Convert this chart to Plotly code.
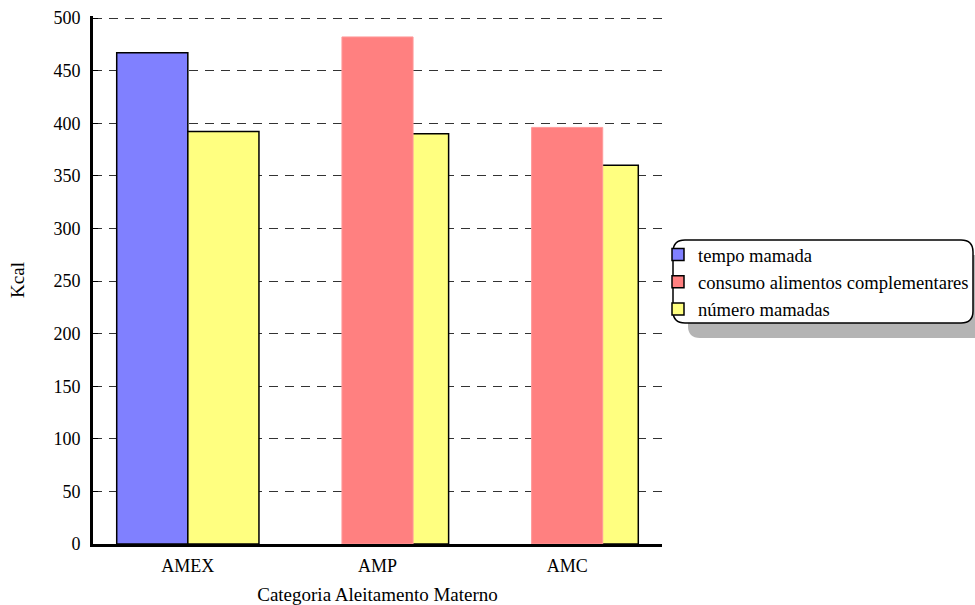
import plotly.graph_objects as go

# Categories and energy values (Kcal) per explanatory factor
categorias = ["AMEX", "AMP", "AMC"]
tempo_mamada = [467, None, None]
consumo_complementares = [None, 482, 396]
numero_mamadas = [392, 390, 360]

W, H = 975, 605
L, R, T, B = 93, 662, 16, 544  # plot area in pixels
Y_TOP = 500 + (18 - T) * 500 / (B - 18)  # keep the 500 gridline inside the plot

FONT = "Liberation Serif, Times New Roman, serif"
FS = 18
BAR_W = 0.375
EDGE = dict(color="black", width=1.5)

fig = go.Figure()

fig.add_trace(go.Bar(
    name="tempo mamada", x=categorias, y=tempo_mamada,
    width=BAR_W, offset=-BAR_W,
    marker=dict(color="#8080FF", line=EDGE),
    legendrank=1,
))
fig.add_trace(go.Bar(
    name="número mamadas", x=categorias, y=numero_mamadas,
    width=BAR_W, offset=0,
    marker=dict(color="#FFFF80", line=EDGE),
    legendrank=3,
))
fig.add_trace(go.Bar(
    name="consumo alimentos complementares", x=categorias, y=consumo_complementares,
    width=BAR_W, offset=-BAR_W / 2,
    marker=dict(color="#FF8080", line=dict(color="#FF9A9A", width=1)),
    legendgroup="consumo", showlegend=False,
))
# legend entry for the complementary-food series (outlined swatch)
fig.add_trace(go.Bar(
    name="consumo alimentos complementares", x=categorias, y=[None] * len(categorias),
    marker=dict(color="#FF8080", line=EDGE),
    legendgroup="consumo", legendrank=2, hoverinfo="skip",
))


def px_x(px):
    return (px - L) / (R - L)


def px_y(py):
    return (B - py) / (B - T)


def rounded_rect(x0, y0, x1, y1, r):
    pts = [
        f"M{px_x(x0 + r)},{px_y(y0)}",
        f"L{px_x(x1 - r)},{px_y(y0)}",
        f"Q{px_x(x1)},{px_y(y0)} {px_x(x1)},{px_y(y0 + r)}",
        f"L{px_x(x1)},{px_y(y1 - r)}",
        f"Q{px_x(x1)},{px_y(y1)} {px_x(x1 - r)},{px_y(y1)}",
        f"L{px_x(x0 + r)},{px_y(y1)}",
        f"Q{px_x(x0)},{px_y(y1)} {px_x(x0)},{px_y(y1 - r)}",
        f"L{px_x(x0)},{px_y(y0 + r)}",
        f"Q{px_x(x0)},{px_y(y0)} {px_x(x0 + r)},{px_y(y0)}",
        "Z",
    ]
    return " ".join(pts)


# Legend frame: drop shadow and rounded white box
fig.add_shape(type="path", xref="paper", yref="paper",
              path=rounded_rect(688, 255, 990, 338, 12),
              fillcolor="#B4B4B4", line=dict(width=0), layer="above")
fig.add_shape(type="path", xref="paper", yref="paper",
              path=rounded_rect(673, 240, 973, 323, 12),
              fillcolor="white", line=dict(color="black", width=1.5), layer="above")

fig.update_layout(
    width=W, height=H,
    margin=dict(l=L, r=W - R, t=T, b=H - B, pad=0, autoexpand=False),
    paper_bgcolor="white", plot_bgcolor="white",
    barmode="overlay",
    font=dict(family=FONT, size=FS, color="black"),
    showlegend=True,
    legend=dict(
        x=px_x(658), y=px_y(236), xanchor="left", yanchor="top",
        bgcolor="rgba(0,0,0,0)", borderwidth=0,
        font=dict(family=FONT, size=18.6, color="black"),
        traceorder="normal", tracegroupgap=0,
    ),
    xaxis=dict(
        range=[-0.5, 2.5], showgrid=False, showline=True,
        linecolor="black", linewidth=3, ticks="",
        title=dict(text="Categoria Aleitamento Materno", standoff=14,
                   font=dict(family=FONT, size=19)),
        tickfont=dict(family=FONT, size=FS),
        ticklabelstandoff=3,
    ),
    yaxis=dict(
        range=[0, Y_TOP], tickvals=list(range(0, 501, 50)), showgrid=True,
        gridcolor="#333333", gridwidth=1, griddash="9px,7px",
        showline=True, linecolor="black", linewidth=3,
        ticks="inside", ticklen=5, tickcolor="black", tickwidth=1,
        zeroline=False,
        title=dict(text="Kcal", standoff=24, font=dict(family=FONT, size=19)),
        tickfont=dict(family=FONT, size=FS),
        ticklabelstandoff=6,
    ),
)

fig.write_html("out.html")
